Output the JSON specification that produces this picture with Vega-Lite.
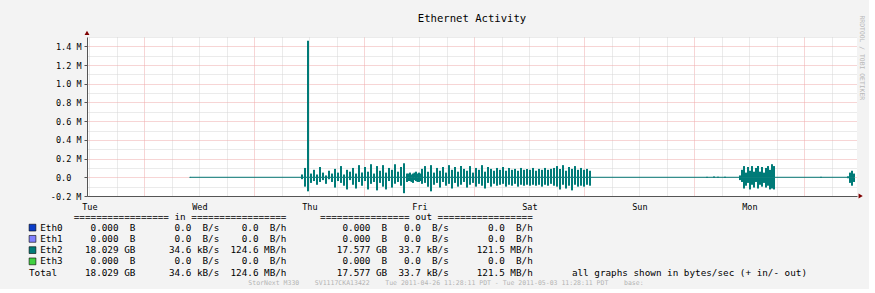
{
  "$schema": "https://vega.github.io/schema/vega-lite/v6.json",
  "background": "#f3f3f3",
  "padding": {"left": 27, "top": 14, "right": 5, "bottom": 2},
  "spacing": 1,
  "title": {
    "text": "StorNext M330\u00a0\u00a0\u00a0\u00a0SV1117CKA13422\u00a0\u00a0\u00a0\u00a0Tue 2011-04-26 11:28:11 PDT - Tue 2011-05-03 11:28:11 PDT\u00a0\u00a0\u00a0\u00a0base:",
    "orient": "bottom", "anchor": "middle", "font": "DejaVu Sans Mono", "fontSize": 6.5,
    "fontWeight": "normal", "color": "#b4b4b4", "offset": 2
  },
  "config": {
    "font": "DejaVu Sans Mono",
    "view": {"stroke": null}
  },
  "vconcat": [
    {
      "width": 770,
      "height": 159,
      "view": {"fill": "#ffffff", "stroke": null},
      "title": {"text": "Ethernet Activity", "frame": "group", "anchor": "middle", "font": "DejaVu Sans Mono", "fontSize": 10.6, "fontWeight": "normal", "color": "#000000", "offset": -10},
      "data": {"values": [
        {"t":22.47,"i":0.004,"o":-0.003},
        {"t":46.91,"i":0.03,"o":-0.02},
        {"t":47.56,"i":0.10,"o":-0.10},
        {"t":48.22,"i":1.46,"o":-0.15},
        {"t":48.87,"i":0.04,"o":-0.06},
        {"t":49.53,"i":0.08,"o":-0.04},
        {"t":50.18,"i":0.03,"o":-0.08},
        {"t":50.84,"i":0.11,"o":-0.05},
        {"t":51.49,"i":0.05,"o":-0.03},
        {"t":52.15,"i":0.02,"o":-0.07},
        {"t":52.80,"i":0.07,"o":-0.02},
        {"t":53.45,"i":0.04,"o":-0.05},
        {"t":54.11,"i":0.09,"o":-0.11},
        {"t":54.76,"i":0.05,"o":-0.04},
        {"t":55.42,"i":0.12,"o":-0.06},
        {"t":56.07,"i":0.03,"o":-0.09},
        {"t":56.73,"i":0.08,"o":-0.13},
        {"t":57.38,"i":0.06,"o":-0.03},
        {"t":58.04,"i":0.10,"o":-0.08},
        {"t":58.69,"i":0.04,"o":-0.12},
        {"t":59.35,"i":0.13,"o":-0.05},
        {"t":60.00,"i":0.05,"o":-0.09},
        {"t":60.65,"i":0.11,"o":-0.04},
        {"t":61.31,"i":0.06,"o":-0.13},
        {"t":61.96,"i":0.14,"o":-0.07},
        {"t":62.62,"i":0.04,"o":-0.05},
        {"t":63.27,"i":0.12,"o":-0.14},
        {"t":63.93,"i":0.07,"o":-0.06},
        {"t":64.58,"i":0.13,"o":-0.10},
        {"t":65.24,"i":0.05,"o":-0.13},
        {"t":65.89,"i":0.10,"o":-0.04},
        {"t":66.55,"i":0.08,"o":-0.11},
        {"t":67.20,"i":0.14,"o":-0.07},
        {"t":67.85,"i":0.06,"o":-0.05},
        {"t":68.51,"i":0.11,"o":-0.09},
        {"t":69.16,"i":0.15,"o":-0.17},
        {"t":69.82,"i":0.04,"o":-0.05},
        {"t":70.15,"i":0.04,"o":-0.04},
        {"t":70.47,"i":0.05,"o":-0.04},
        {"t":70.80,"i":0.03,"o":-0.05},
        {"t":71.13,"i":0.04,"o":-0.06},
        {"t":71.45,"i":0.05,"o":-0.03},
        {"t":71.78,"i":0.06,"o":-0.04},
        {"t":72.11,"i":0.04,"o":-0.05},
        {"t":72.44,"i":0.05,"o":-0.05},
        {"t":72.76,"i":0.04,"o":-0.04},
        {"t":73.09,"i":0.09,"o":-0.07},
        {"t":73.75,"i":0.12,"o":-0.06},
        {"t":74.40,"i":0.06,"o":-0.10},
        {"t":75.05,"i":0.13,"o":-0.15},
        {"t":75.71,"i":0.05,"o":-0.08},
        {"t":76.36,"i":0.10,"o":-0.06},
        {"t":77.02,"i":0.07,"o":-0.11},
        {"t":77.67,"i":0.11,"o":-0.05},
        {"t":78.33,"i":0.05,"o":-0.09},
        {"t":78.98,"i":0.13,"o":-0.07},
        {"t":79.64,"i":0.08,"o":-0.12},
        {"t":80.29,"i":0.11,"o":-0.06},
        {"t":80.95,"i":0.06,"o":-0.10},
        {"t":81.60,"i":0.12,"o":-0.08},
        {"t":82.25,"i":0.09,"o":-0.05},
        {"t":82.91,"i":0.07,"o":-0.11},
        {"t":83.56,"i":0.12,"o":-0.08},
        {"t":84.22,"i":0.05,"o":-0.06},
        {"t":84.87,"i":0.10,"o":-0.10},
        {"t":85.53,"i":0.08,"o":-0.07},
        {"t":86.18,"i":0.13,"o":-0.09},
        {"t":86.84,"i":0.06,"o":-0.12},
        {"t":87.49,"i":0.11,"o":-0.06},
        {"t":88.15,"i":0.09,"o":-0.10},
        {"t":88.80,"i":0.07,"o":-0.07},
        {"t":89.45,"i":0.10,"o":-0.09},
        {"t":90.11,"i":0.08,"o":-0.08},
        {"t":90.76,"i":0.11,"o":-0.07},
        {"t":91.42,"i":0.07,"o":-0.10},
        {"t":92.07,"i":0.10,"o":-0.08},
        {"t":92.73,"i":0.08,"o":-0.09},
        {"t":93.38,"i":0.09,"o":-0.07},
        {"t":94.04,"i":0.07,"o":-0.10},
        {"t":94.69,"i":0.10,"o":-0.08},
        {"t":95.35,"i":0.08,"o":-0.09},
        {"t":96.00,"i":0.09,"o":-0.08},
        {"t":96.65,"i":0.08,"o":-0.09},
        {"t":97.31,"i":0.10,"o":-0.08},
        {"t":97.96,"i":0.07,"o":-0.09},
        {"t":98.62,"i":0.09,"o":-0.08},
        {"t":99.27,"i":0.08,"o":-0.10},
        {"t":99.93,"i":0.10,"o":-0.08},
        {"t":100.58,"i":0.08,"o":-0.09},
        {"t":101.24,"i":0.09,"o":-0.07},
        {"t":101.89,"i":0.10,"o":-0.09},
        {"t":102.55,"i":0.12,"o":-0.10},
        {"t":103.20,"i":0.09,"o":-0.13},
        {"t":103.85,"i":0.13,"o":-0.08},
        {"t":104.51,"i":0.07,"o":-0.12},
        {"t":105.16,"i":0.11,"o":-0.09},
        {"t":105.82,"i":0.09,"o":-0.14},
        {"t":106.47,"i":0.12,"o":-0.08},
        {"t":107.13,"i":0.08,"o":-0.10},
        {"t":107.78,"i":0.10,"o":-0.09},
        {"t":108.44,"i":0.08,"o":-0.10},
        {"t":109.09,"i":0.09,"o":-0.08},
        {"t":109.75,"i":0.07,"o":-0.09},
        {"t":135.27,"i":0.005,"o":-0.005},
        {"t":136.80,"i":0.008,"o":-0.006},
        {"t":137.67,"i":0.006,"o":-0.004},
        {"t":139.20,"i":0.005,"o":-0.005},
        {"t":142.47,"i":0.02,"o":-0.03},
        {"t":142.91,"i":0.08,"o":-0.05},
        {"t":143.35,"i":0.12,"o":-0.12},
        {"t":143.78,"i":0.05,"o":-0.09},
        {"t":144.22,"i":0.11,"o":-0.06},
        {"t":144.65,"i":0.07,"o":-0.13},
        {"t":145.09,"i":0.12,"o":-0.08},
        {"t":145.53,"i":0.06,"o":-0.11},
        {"t":145.96,"i":0.10,"o":-0.05},
        {"t":146.40,"i":0.12,"o":-0.12},
        {"t":146.84,"i":0.06,"o":-0.08},
        {"t":147.27,"i":0.11,"o":-0.10},
        {"t":147.71,"i":0.05,"o":-0.06},
        {"t":148.15,"i":0.10,"o":-0.11},
        {"t":148.58,"i":0.12,"o":-0.09},
        {"t":149.02,"i":0.08,"o":-0.13},
        {"t":149.45,"i":0.14,"o":-0.12},
        {"t":149.89,"i":0.12,"o":-0.13},
        {"t":160.15,"i":0.005,"o":-0.004},
        {"t":166.04,"i":0.01,"o":-0.01},
        {"t":166.47,"i":0.05,"o":-0.06},
        {"t":166.91,"i":0.07,"o":-0.09},
        {"t":167.35,"i":0.04,"o":-0.05}
      ]},
      "layer": [
        {
          "mark": {"type": "rule", "color": "#007b78", "strokeWidth": 2},
          "encoding": {
            "x": {"field": "t", "type": "quantitative", "scale": {"domain": [0, 168], "nice": false, "zero": false},
              "axis": {"orient": "bottom", "title": null, "values": [0.53, 24.53, 48.53, 72.53, 96.53, 120.53, 144.53],
                "labelExpr": "['Tue','Wed','Thu','Fri','Sat','Sun','Mon'][round((datum.value - 0.53) / 24)]",
                "grid": false, "ticks": false, "domain": true, "domainColor": "#555555", "domainWidth": 1,
                "labelFont": "DejaVu Sans Mono", "labelFontSize": 8.5, "labelColor": "#000000", "labelPadding": 6,
                "labelFlush": false, "labelOverlap": false}},
            "y": {"field": "i", "type": "quantitative", "scale": {"domain": [-0.2, 1.5], "nice": false, "zero": false},
              "axis": {"orient": "left", "title": null, "values": [-0.2, 0, 0.2, 0.4, 0.6, 0.8, 1.0, 1.2, 1.4],
                "labelExpr": "datum.value == 0 ? '0.0\u00a0\u00a0\u200b' : (datum.value < 0 ? '-' : '') + format(abs(datum.value), '.1f') + '\u00a0M'",
                "grid": true, "gridColor": "#eeaaaa", "gridDash": [1, 1], "gridOpacity": 1,
                "ticks": true, "tickSize": 3, "tickColor": "#555555", "domain": true, "domainColor": "#555555",
                "labelFont": "DejaVu Sans Mono", "labelFontSize": 8.5, "labelColor": "#000000", "labelPadding": 3,
                "labelOverlap": false, "labelFlush": false}},
            "y2": {"datum": 0}
          }
        },
        {
          "mark": {"type": "rule", "color": "#007b78", "strokeWidth": 2},
          "encoding": {
            "x": {"field": "t", "type": "quantitative",
              "axis": {"orient": "bottom", "title": null, "labels": false, "ticks": false, "domain": false,
                "grid": true, "gridColor": "#d6d6d6", "gridDash": [1, 1], "gridOpacity": 1,
                "values": [0.53, 6.53, 18.53, 24.53, 30.53, 42.53, 48.53, 54.53, 66.53, 72.53, 78.53, 90.53, 96.53, 102.53, 114.53, 120.53, 126.53, 138.53, 144.53, 150.53, 162.53]}},
            "y": {"field": "o", "type": "quantitative",
              "axis": {"orient": "left", "title": null, "labels": false, "ticks": false, "domain": false,
                "grid": true, "gridColor": "#d6d6d6", "gridDash": [1, 1], "gridOpacity": 1,
                "values": [-0.1, 0.1, 0.3, 0.5, 0.7, 0.9, 1.1, 1.3, 1.5]}},
            "y2": {"datum": 0}
          }
        },
        {
          "mark": {"type": "line", "color": "#007b78", "strokeWidth": 1},
          "encoding": {
            "x": {"field": "t", "type": "quantitative",
              "axis": {"orient": "bottom", "title": null, "labels": false, "ticks": false, "domain": false,
                "grid": true, "gridColor": "#eeaaaa", "gridDash": [1, 1], "gridOpacity": 1,
                "values": [12.53, 36.53, 60.53, 84.53, 108.53, 132.53, 156.53]}},
            "y": {"datum": 0, "type": "quantitative",
              "axis": {"orient": "right", "labels": false, "ticks": false, "domain": false, "grid": false,
                "title": "RRDTOOL / TOBI OETIKER", "titleFont": "DejaVu Sans Mono", "titleFontSize": 6.4,
                "titleFontWeight": "normal", "titleColor": "#b8b8b8", "titleAngle": 90, "titleAlign": "left",
                "titleBaseline": "middle", "titleX": 4, "titleY": -22}}
          }
        },
        {
          "data": {"values": [{}]},
          "mark": {"type": "point", "shape": "triangle-up", "filled": true, "color": "#7f0000", "size": 24, "opacity": 1},
          "encoding": {
            "x": {"datum": 0, "type": "quantitative", "axis": null},
            "y": {"datum": 1.545, "type": "quantitative", "axis": null}
          }
        },
        {
          "data": {"values": [{}]},
          "mark": {"type": "point", "shape": "triangle-right", "filled": true, "color": "#7f0000", "size": 24, "opacity": 1},
          "encoding": {
            "x": {"datum": 168.8, "type": "quantitative", "axis": null},
            "y": {"datum": -0.2, "type": "quantitative", "axis": null}
          }
        }
      ],
      "resolve": {"axis": {"x": "independent", "y": "independent"}}
    },
    {
      "width": 700,
      "height": 56.25,
      "view": {"stroke": null},
      "title": {
        "text": "\u200b\u00a0\u00a0\u00a0\u00a0\u00a0\u00a0\u00a0\u00a0=================\u00a0in\u00a0=================\u00a0\u00a0\u00a0\u00a0\u00a0\u00a0================\u00a0out\u00a0=================",
        "anchor": "start", "frame": "group", "font": "DejaVu Sans Mono", "fontSize": 9.3,
        "fontWeight": "normal", "color": "#000000", "offset": 0, "dx": -58
      },
      "data": {"values": [
        {"name": "Eth0", "color": "#0a3cc8", "it": 0.000, "itu": "B", "ir": 0.0, "iru": "B/s", "ih": 0.0, "ihu": "B/h", "ot": 0.000, "otu": "B", "orate": 0.0, "oru": "B/s", "oh": 0.0, "ohu": "B/h", "note": ""},
        {"name": "Eth1", "color": "#8080ff", "it": 0.000, "itu": "B", "ir": 0.0, "iru": "B/s", "ih": 0.0, "ihu": "B/h", "ot": 0.000, "otu": "B", "orate": 0.0, "oru": "B/s", "oh": 0.0, "ohu": "B/h", "note": ""},
        {"name": "Eth2", "color": "#007b78", "it": 18.029, "itu": "GB", "ir": 34.6, "iru": "kB/s", "ih": 124.6, "ihu": "MB/h", "ot": 17.577, "otu": "GB", "orate": 33.7, "oru": "kB/s", "oh": 121.5, "ohu": "MB/h", "note": ""},
        {"name": "Eth3", "color": "#40d040", "it": 0.000, "itu": "B", "ir": 0.0, "iru": "B/s", "ih": 0.0, "ihu": "B/h", "ot": 0.000, "otu": "B", "orate": 0.0, "oru": "B/s", "oh": 0.0, "ohu": "B/h", "note": ""},
        {"name": "Total", "it": 18.029, "itu": "GB", "ir": 34.6, "iru": "kB/s", "ih": 124.6, "ihu": "MB/h", "ot": 17.577, "otu": "GB", "orate": 33.7, "oru": "kB/s", "oh": 121.5, "ohu": "MB/h", "note": "all graphs shown in bytes/sec (+ in/- out)"}
      ]},
      "transform": [
        {"calculate": "'\u200b' + pad((datum.color ? '\u00a0\u00a0' : '') + datum.name, 10, '\u00a0', 'right') + pad(format(datum.it, '.3f'), 6, '\u00a0', 'left') + '\u00a0' + pad(datum.itu, 2, '\u00a0', 'left') + pad(format(datum.ir, '.1f'), 10, '\u00a0', 'left') + '\u00a0' + pad(datum.iru, 4, '\u00a0', 'left') + pad(format(datum.ih, '.1f'), 7, '\u00a0', 'left') + '\u00a0' + pad(datum.ihu, 4, '\u00a0', 'left') + pad(format(datum.ot, '.3f'), 15, '\u00a0', 'left') + '\u00a0' + pad(datum.otu, 2, '\u00a0', 'left') + pad(format(datum.orate, '.1f'), 6, '\u00a0', 'left') + '\u00a0' + pad(datum.oru, 4, '\u00a0', 'left') + pad(format(datum.oh, '.1f'), 10, '\u00a0', 'left') + '\u00a0' + pad(datum.ohu, 4, '\u00a0', 'left') + (datum.note ? '\u00a0\u00a0\u00a0\u00a0\u00a0\u00a0\u00a0' + datum.note : '')", "as": "line"}
      ],
      "layer": [
        {
          "mark": {"type": "text", "align": "left", "baseline": "middle", "font": "DejaVu Sans Mono", "fontSize": 9.3, "color": "#000000"},
          "encoding": {
            "y": {"field": "name", "type": "nominal", "sort": null, "axis": null, "scale": {"type": "point", "padding": 0.5}},
            "x": {"value": -58},
            "text": {"field": "line"}
          }
        },
        {
          "transform": [{"filter": "datum.color != null"}],
          "mark": {"type": "point", "shape": "square", "filled": true, "size": 46, "stroke": "#000000", "strokeWidth": 0.6, "opacity": 1},
          "encoding": {
            "y": {"field": "name", "type": "nominal", "sort": null, "axis": null, "scale": {"type": "point", "padding": 0.5}},
            "x": {"value": -54.5},
            "fill": {"field": "color", "type": "nominal", "scale": null, "legend": null}
          }
        }
      ]
    }
  ]
}
